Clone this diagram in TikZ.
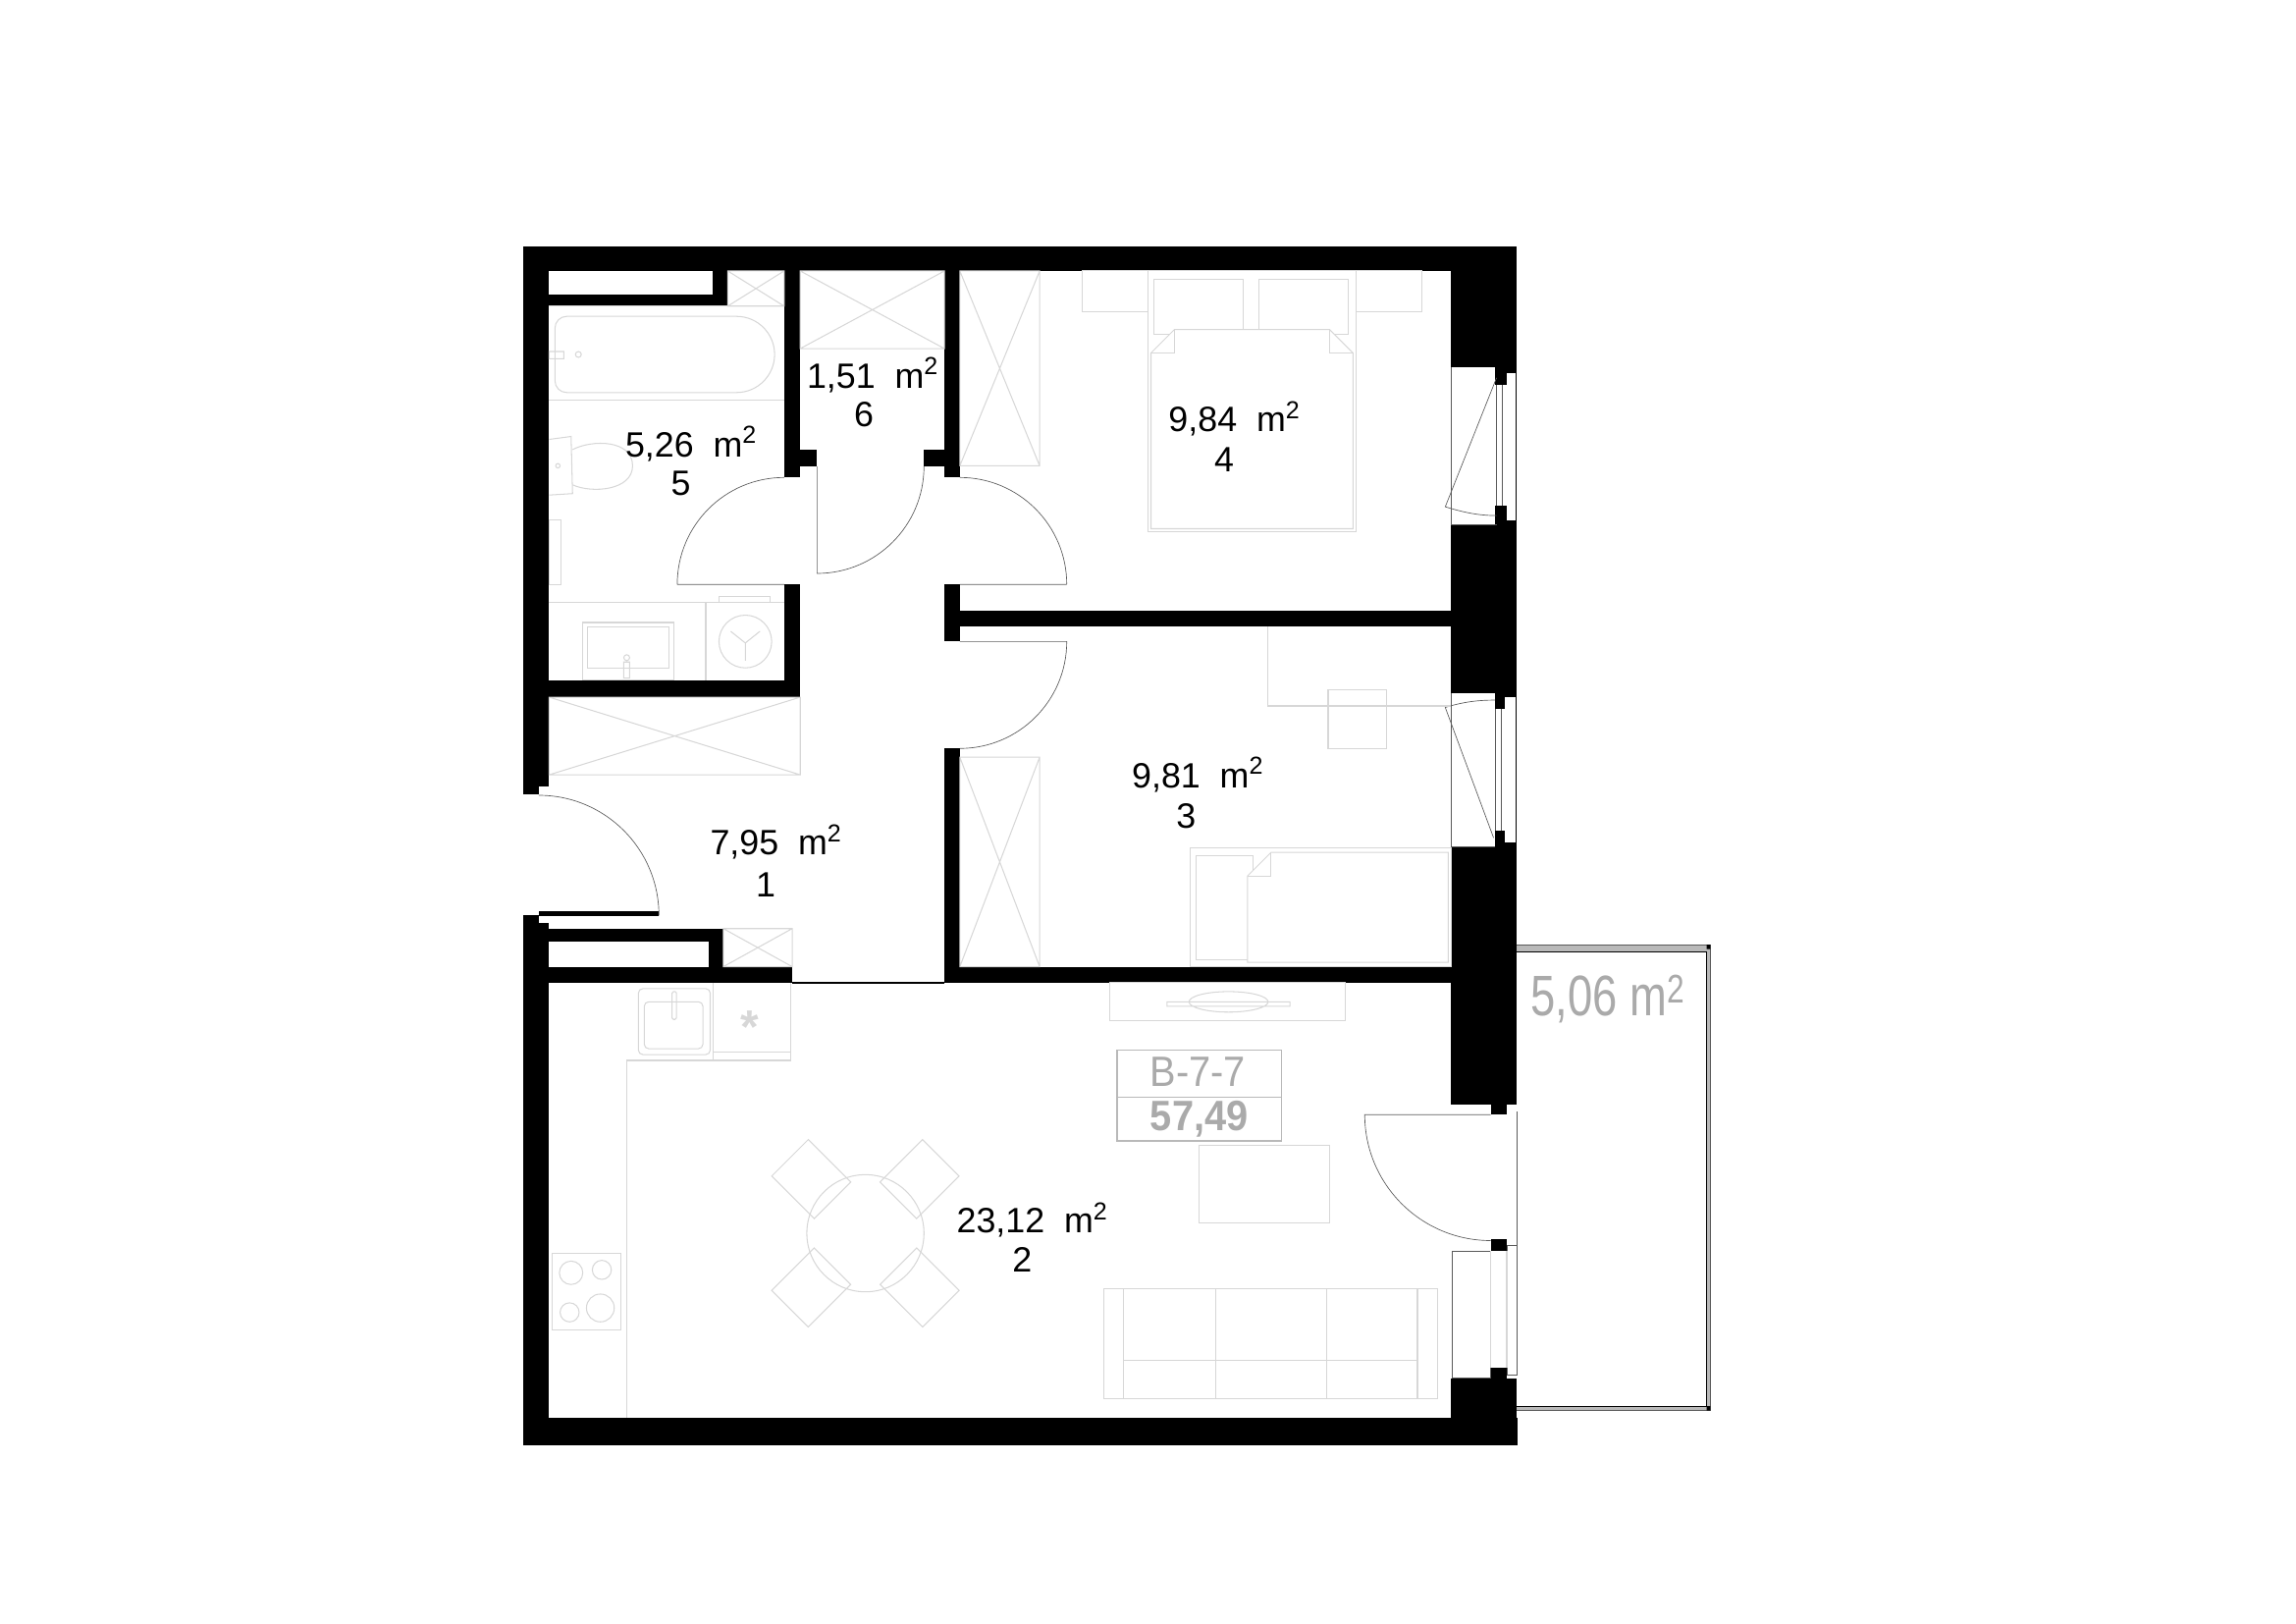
\documentclass[tikz,border=0pt]{standalone}
\usepackage{fontspec}
\setmainfont{Liberation Sans}
\newfontfamily\narrowfont[FakeStretch=0.78]{Liberation Sans}
\newfontfamily\tagfont[FakeStretch=0.92]{Liberation Sans}
\definecolor{planblack}{RGB}{0,0,0}
\definecolor{planfurn}{RGB}{215,215,215}
\definecolor{plandoor}{RGB}{90,90,90}
\definecolor{plantext}{RGB}{170,170,170}
\definecolor{planrail}{RGB}{185,185,185}
\begin{document}
\begin{tikzpicture}[x=1pt, y=-1pt,
  wall/.style={fill=planblack},
  gap/.style={fill=white},
  furn/.style={draw=planfurn, line width=0.7pt},
  door/.style={draw=plandoor, line width=0.45pt},
  room/.style={font=\fontsize{24}{24}\selectfont, text=black, inner sep=0pt},
  tag/.style={font=\tagfont\fontsize{29}{29}\selectfont, text=plantext, inner sep=0pt}]
\useasboundingbox (0,0) rectangle (1568,1108.15);

% Balcony
\draw[plandoor, line width=0.5pt, fill=planrail] (1035,645) rectangle (1168,963);
\draw[black, line width=0.6pt, fill=white] (1035,650) -- (1165.5,650) -- (1165.5,960) -- (1035,960);
\fill[wall] (1165.5,645) rectangle (1168,648) (1165.5,960) rectangle (1168,963);

% Outer walls
\fill[wall] (357,168) rectangle (1036,185);
\fill[wall] (357,968) rectangle (1036.5,987);
\fill[wall] (357,168) rectangle (375,537);
\fill[wall] (357,537) rectangle (368,542);
\fill[wall] (357,625) rectangle (368,987);
\fill[wall] (368,630) rectangle (375,987);
\fill[wall] (991,168) rectangle (1036,987);

% Inner walls
\fill[wall] (375,201) rectangle (497,209);
\fill[wall] (487,185) rectangle (497,209);
\fill[wall] (535.5,185) rectangle (546.5,326);
\fill[wall] (535.5,307) rectangle (558,318.5);
\fill[wall] (645,185) rectangle (655.5,326);
\fill[wall] (630.5,307) rectangle (645,318.5);
\fill[wall] (535.5,399) rectangle (546.5,476);
\fill[wall] (375,464.5) rectangle (546.5,476);
\fill[wall] (645,399) rectangle (655.5,438);
\fill[wall] (655.5,417) rectangle (991,428);
\fill[wall] (645,511) rectangle (655.5,671);
\fill[wall] (655.5,660) rectangle (991,671);
\fill[wall] (375,634) rectangle (494,643);
\fill[wall] (484,634) rectangle (494,660);
\fill[wall] (375,660) rectangle (541,671);
\fill[wall] (368,622) rectangle (450,625.5);
\draw[planblack, line width=0.8pt] (541,671) -- (645,671);

% Window openings
\fill[gap] (991,251) rectangle (1022,358);
\fill[gap] (1022,255) rectangle (1035,355);
\fill[wall] (1021,251) rectangle (1029,263);
\fill[wall] (1021,345) rectangle (1029,358);
\draw[door] (991,251) -- (991,358) -- (1022,358);
\draw[door] (1022,263) -- (1022,345) (1026,263) -- (1026,345);
\draw[door] (1022,258) -- (987,346) .. controls (1000,350) and (1010,352) .. (1022,352);
\fill[gap] (991,473) rectangle (1021,578);
\fill[gap] (1021,476) rectangle (1035,575);
\fill[wall] (1021,473) rectangle (1028,484);
\fill[wall] (1021,567) rectangle (1028,578);
\draw[door] (991,473) -- (991,578) -- (1021,578);
\draw[door] (1021,484) -- (1021,567) (1025,484) -- (1025,567);
\draw[door] (1020,572) -- (987,483) .. controls (1000,479) and (1010,478) .. (1021,478);

% Balcony door
\fill[gap] (991,754) rectangle (1036,941);
\fill[wall] (1018,754) rectangle (1029,761);
\fill[wall] (1018,846) rectangle (1029,854);
\fill[wall] (1018,934) rectangle (1029,941);
\draw[door] (991.5,854) rectangle (1018,941);
\draw[door] (1029,850) rectangle (1036,939);
\draw[door] (1036,759) -- (1036,851);
\draw[furn] (1018,854) -- (1018,934) (1029,854) -- (1029,934);

% Doors
\draw[door] (462.5,399) -- (535.5,399) (535.5,326) arc[start angle=90, end angle=180, radius=73pt];
\draw[door] (558,318.5) -- (558,391.5) arc[start angle=270, end angle=360, radius=73pt];
\draw[door] (728.5,399) -- (655.5,399) (655.5,326) arc[start angle=90, end angle=0, radius=73pt];
\draw[door] (655.5,438) -- (728.5,438) arc[start angle=0, end angle=-90, radius=73pt];
\draw[door] (368,543) arc[start angle=90, end angle=0, radius=82pt];
\draw[door] (1018,761) -- (932,761) arc[start angle=180, end angle=270, radius=86pt];

% Closets
\draw[furn] (497,185) rectangle (535.5,209) (497,185) -- (535.5,209) (497,209) -- (535.5,185);
\draw[furn] (546.5,185) rectangle (645,238) (546.5,185) -- (645,238) (546.5,238) -- (645,185);
\draw[furn] (655.5,185) rectangle (710,318) (655.5,185) -- (710,318) (655.5,318) -- (710,185);
\draw[furn] (375,476) rectangle (546.5,529) (375,476) -- (546.5,529) (375,529) -- (546.5,476);
\draw[furn] (655.5,517) rectangle (710,660) (655.5,517) -- (710,660) (655.5,660) -- (710,517);
\draw[furn] (494,634) rectangle (541,660) (494,634) -- (541,660) (494,660) -- (541,634);

% Bathroom
\draw[furn] (375,209) -- (535.5,209) (375,273) -- (535.5,273);
\draw[furn] (387,216) -- (503,216) arc[start angle=90, end angle=-90, radius=26pt] -- (387,268) arc[start angle=270, end angle=180, radius=8pt] -- (379,224) arc[start angle=180, end angle=90, radius=8pt];
\draw[furn] (375,240) rectangle (385,245) (395,242) circle[radius=2pt];
\draw[furn] (391,307) .. controls (404,300) and (432,300) .. (432,318) .. controls (432,335) and (404,337) .. (391,331);
\draw[furn] (375,300) -- (390,298) -- (391,337) -- (375,338) (381,318) circle[radius=1.5pt];
\draw[furn] (375,355) rectangle (383,399);
\draw[furn] (375,411) -- (535.5,411) (482,411) -- (482,464.5);
\draw[furn] (491,407) rectangle (526,411);
\draw[furn] (398,425) rectangle (460,464.5);
\draw[furn] (401,428) rectangle (457,456);
\draw[furn] (428,449) circle[radius=2pt] (426,452) rectangle (430,463);
\draw[furn] (509,438) circle[radius=18pt];
\draw[furn] (509,439) -- (499,431) (509,439) -- (519,431) (509,439) -- (509,451);

% Bedroom 4
\draw[furn] (739,185) rectangle (784,213) (926,185) rectangle (971,213);
\draw[furn] (784,185) rectangle (926,363);
\draw[furn] (788,191) rectangle (849,228) (860,191) rectangle (921,228);
\draw[furn, fill=white] (786,241) -- (802,225) -- (908,225) -- (924,241) -- (924,361) -- (786,361) -- cycle;
\draw[furn] (802,225) -- (802,241) -- (786,241) (908,225) -- (908,241) -- (924,241);

% Bedroom 3
\draw[furn] (866,428) -- (866,482) -- (991,482);
\draw[furn] (907,471) rectangle (947,511);
\draw[furn] (813,579) rectangle (991,660);
\draw[furn] (817,584) rectangle (856,655);
\draw[furn, fill=white] (852,598) -- (868,582) -- (989,582) -- (989,657) -- (852,657) -- cycle;
\draw[furn] (868,582) -- (868,598) -- (852,598);

% Kitchen
\draw[furn] (540,671) -- (540,724) -- (428,724) -- (428,968);
\draw[furn] (487,671) -- (487,724) (487,718) -- (540,718);
\draw[furn, rounded corners=3pt] (436,675) rectangle (485,720);
\draw[furn, rounded corners=3pt] (440,684) rectangle (480,716);
\draw[furn, rounded corners=1pt] (459,677) rectangle (462,696);
\node[font=\bfseries\fontsize{32}{32}\selectfont, text=planfurn, inner sep=0pt] (star) at (512,701) {*};
\draw[furn] (377,856) rectangle (424,908);
\draw[furn] (390,869) circle[radius=8pt] (411,867) circle[radius=6.5pt] (389,896) circle[radius=6.5pt] (410,893) circle[radius=9.5pt];

% Dining table
\draw[furn] (527,803) -- (552,778) -- (581,807) -- (556,832) -- cycle;
\draw[furn] (601,807) -- (630,778) -- (655,803) -- (626,832) -- cycle;
\draw[furn] (527,881) -- (556,852) -- (581,877) -- (552,906) -- cycle;
\draw[furn] (601,877) -- (626,852) -- (655,881) -- (630,906) -- cycle;
\draw[furn] (591,842) circle[radius=40pt];

% Living room
\draw[furn] (758,671) rectangle (919,697);
\draw[furn] (797,684) rectangle (881,687) (839,684) ellipse[x radius=27pt, y radius=7pt];
\draw[furn] (819,782) rectangle (908,835);
\draw[furn] (754,880) rectangle (982,955);
\draw[furn] (767,880) -- (767,955) (830,880) -- (830,955) (906,880) -- (906,955) (968,880) -- (968,955) (767,929) -- (968,929);

% Flat tag
\draw[planrail, line width=1pt] (763,717) rectangle (875,779) (763,749) -- (875,749);
\node[tag] (flat) at (818,732) {B-7-7};
\node[tag, font=\tagfont\bfseries\fontsize{29}{29}\selectfont] (total) at (819,764) {57,49};

% Room labels
\node[room] (a5) at (472,303) {5,26\ \ m\textsuperscript{2}};
\node[room] (n5) at (465,330) {5};
\node[room] (a6) at (596,256) {1,51\ \ m\textsuperscript{2}};
\node[room] (n6) at (590,283) {6};
\node[room] (a4) at (843,286) {9,84\ \ m\textsuperscript{2}};
\node[room] (n4) at (836,314) {4};
\node[room] (a3) at (818,529) {9,81\ \ m\textsuperscript{2}};
\node[room] (n3) at (810,557) {3};
\node[room] (a1) at (530,575) {7,95\ \ m\textsuperscript{2}};
\node[room] (n1) at (523,604) {1};
\node[room] (a2) at (705,833) {23,12\ \ m\textsuperscript{2}};
\node[room] (n2) at (698,860) {2};
\node[font=\narrowfont\fontsize{39}{39}\selectfont, text=plantext, inner sep=0pt] (balcony) at (1098,682) {5,06 m\textsuperscript{2}};
\end{tikzpicture}
\end{document}
